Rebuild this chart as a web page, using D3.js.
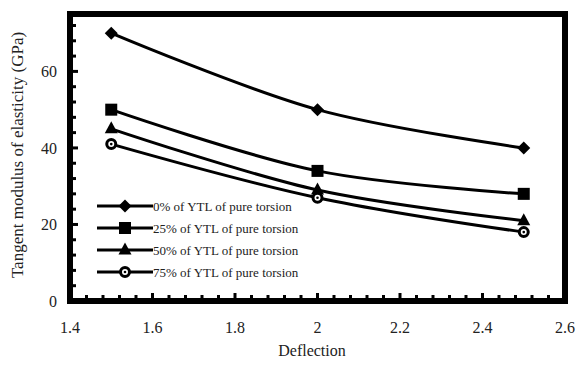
<!DOCTYPE html>
<html>
<head>
<meta charset="utf-8" />
<title>Tangent modulus vs deflection</title>
<script src="https://cdnjs.cloudflare.com/ajax/libs/d3/7.8.5/d3.min.js"></script>
<style>
  body { margin: 0; background: #fff; }
  text { font-family: "Times New Roman", "Liberation Serif", "DejaVu Serif", serif; }
</style>
</head>
<body>
<svg id="chart" width="576" height="374"></svg>
<script>
  // data
  const deflection = [1.5, 2.0, 2.5]
  const seriesNames = [
    '0% of YTL of pure torsion',
    '25% of YTL of pure torsion',
    '50% of YTL of pure torsion',
    '75% of YTL of pure torsion'
  ]
  const ytl0 = [70, 50, 40]
  const ytl25 = [50, 34, 28]
  const ytl50 = [45, 29, 21]
  const ytl75 = [41, 27, 18]
  const xTicks = [1.4, 1.6, 1.8, 2.0, 2.2, 2.4, 2.6]
  const yTicks = [0, 20, 40, 60]

  const series = [ytl0, ytl25, ytl50, ytl75].map((vals, i) => ({
    name: seriesNames[i],
    marker: ['diamond', 'square', 'triangle', 'circle'][i],
    points: vals.map((v, j) => ({ x: deflection[j], y: v }))
  }))

  const svg = d3.select('#chart')
  const plotL = 70, plotR = 565, plotT = 14, plotB = 301

  let xScale = d3.scaleLinear().domain([1.4, 2.6]).range([plotL, plotR])
  let yScale = d3.scaleLinear().domain([0, 75]).range([plotB, plotT])

  // frame
  svg.append('rect')
    .attr('x', plotL).attr('y', plotT)
    .attr('width', plotR - plotL).attr('height', plotB - plotT)
    .attr('fill', 'none').attr('stroke', '#000').attr('stroke-width', 6)

  // minor ticks, pointing inward
  const xMinor = d3.range(0, 31).map(i => 1.4 + i * 0.04)
  svg.append('g').selectAll('line').data(xMinor).enter().append('line')
    .attr('x1', d => xScale(d)).attr('x2', d => xScale(d))
    .attr('y1', plotB).attr('y2', (d, i) => plotB - (i % 5 === 0 ? 8 : 6))
    .attr('stroke', '#000').attr('stroke-width', 3)

  const yMinor = d3.range(0, 75, 4)
  svg.append('g').selectAll('line').data(yMinor).enter().append('line')
    .attr('y1', d => yScale(d)).attr('y2', d => yScale(d))
    .attr('x1', plotL).attr('x2', d => plotL + (d % 20 === 0 ? 8 : 6))
    .attr('stroke', '#000').attr('stroke-width', 3)

  // tick labels
  svg.append('g').selectAll('text').data(xTicks).enter().append('text')
    .attr('x', d => xScale(d)).attr('y', 333)
    .attr('text-anchor', 'middle').attr('font-size', 16).attr('fill', '#222')
    .text(d => String(+d.toFixed(1)))

  svg.append('g').selectAll('text').data(yTicks).enter().append('text')
    .attr('x', 57).attr('y', d => yScale(d) + 6)
    .attr('text-anchor', 'end').attr('font-size', 16).attr('fill', '#222')
    .text(d => d)

  // axis titles
  svg.append('text')
    .attr('x', 312).attr('y', 356)
    .attr('text-anchor', 'middle').attr('font-size', 16).attr('fill', '#222')
    .text('Deflection')

  svg.append('text')
    .attr('transform', 'translate(23,155) rotate(-90)')
    .attr('text-anchor', 'middle').attr('font-size', 17).attr('fill', '#222')
    .text('Tangent modulus of elasticity (GPa)')

  // lines
  const line = d3.line()
    .x(d => xScale(d.x)).y(d => yScale(d.y))
    .curve(d3.curveCatmullRom.alpha(0.5))

  svg.append('g').selectAll('path').data(series).enter().append('path')
    .attr('d', d => line(d.points))
    .attr('fill', 'none').attr('stroke', '#000').attr('stroke-width', 3)

  function drawMarker(g, type, cx, cy) {
    if (type === 'diamond') {
      g.append('path').attr('d', `M${cx},${cy - 6.5}L${cx + 6.5},${cy}L${cx},${cy + 6.5}L${cx - 6.5},${cy}Z`).attr('fill', '#000')
    } else if (type === 'square') {
      g.append('rect').attr('x', cx - 6).attr('y', cy - 6).attr('width', 12).attr('height', 12).attr('fill', '#000')
    } else if (type === 'triangle') {
      g.append('path').attr('d', `M${cx},${cy - 7.5}L${cx + 6.5},${cy + 4.5}L${cx - 6.5},${cy + 4.5}Z`).attr('fill', '#000')
    } else {
      g.append('circle').attr('cx', cx).attr('cy', cy).attr('r', 4.5)
        .attr('fill', '#fff').attr('stroke', '#000').attr('stroke-width', 3)
      g.append('circle').attr('cx', cx).attr('cy', cy).attr('r', 1.3).attr('fill', '#000')
    }
  }

  const markers = svg.append('g')
  series.forEach(s => {
    s.points.forEach(p => drawMarker(markers, s.marker, xScale(p.x), yScale(p.y)))
  })

  // legend
  const legend = svg.append('g')
  series.forEach((s, i) => {
    const ly = 206 + i * 22
    legend.append('line').attr('x1', 97).attr('x2', 153).attr('y1', ly).attr('y2', ly)
      .attr('stroke', '#000').attr('stroke-width', 3)
    drawMarker(legend, s.marker, 125, ly)
    legend.append('text').attr('x', 153).attr('y', ly + 4.5)
      .attr('font-size', 13).attr('fill', '#222').text(s.name)
  })
</script>
</body>
</html>
